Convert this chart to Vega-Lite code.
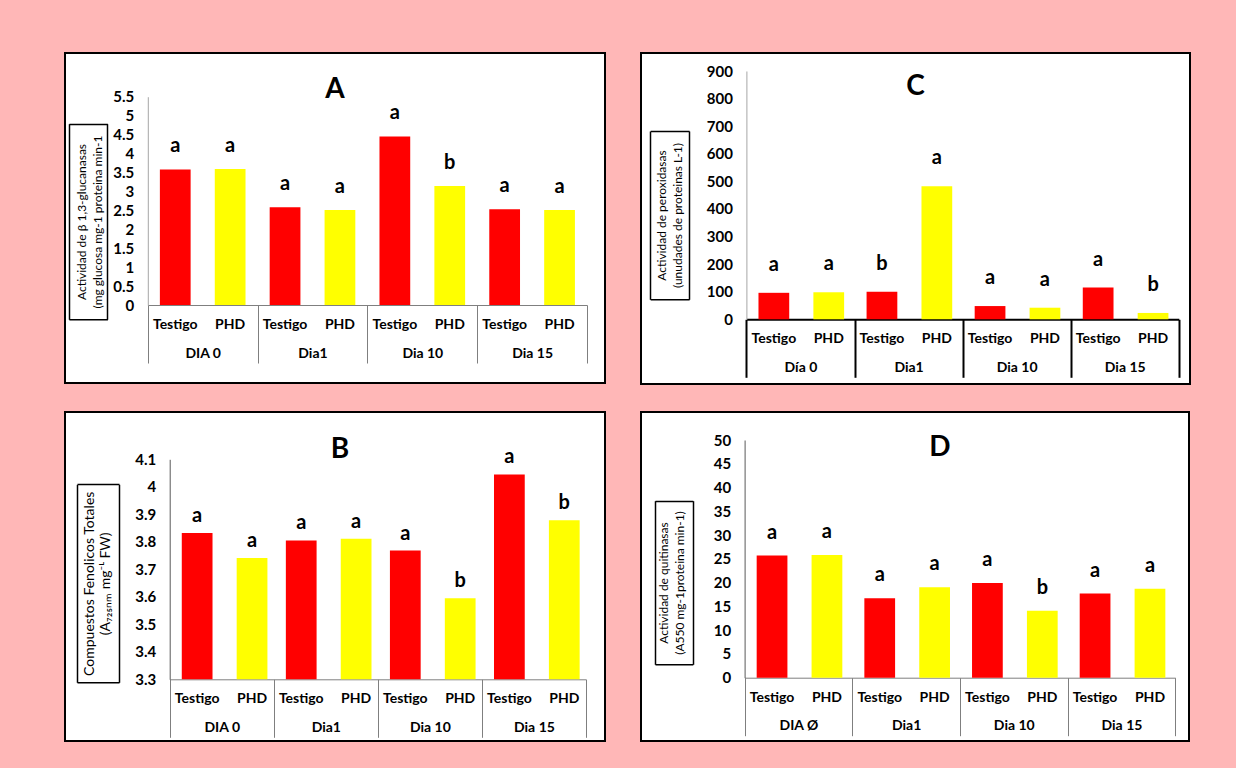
{
  "$schema": "https://vega.github.io/schema/vega-lite/v6.json",
  "background": "#ffb7b7",
  "padding": {"left": 64, "top": 52, "right": 46, "bottom": 27},
  "datasets": {
    "A": [
      {"Dia": "DIA 0", "Trat": "Testigo", "value": 3.58, "letra": "a"},
      {"Dia": "DIA 0", "Trat": "PHD", "value": 3.59, "letra": "a"},
      {"Dia": "Dia1", "Trat": "Testigo", "value": 2.58, "letra": "a"},
      {"Dia": "Dia1", "Trat": "PHD", "value": 2.51, "letra": "a"},
      {"Dia": "Dia 10", "Trat": "Testigo", "value": 4.45, "letra": "a"},
      {"Dia": "Dia 10", "Trat": "PHD", "value": 3.14, "letra": "b"},
      {"Dia": "Dia 15", "Trat": "Testigo", "value": 2.53, "letra": "a"},
      {"Dia": "Dia 15", "Trat": "PHD", "value": 2.51, "letra": "a"}
    ],
    "C": [
      {"Dia": "Día 0", "Trat": "Testigo", "value": 96, "letra": "a"},
      {"Dia": "Día 0", "Trat": "PHD", "value": 98, "letra": "a"},
      {"Dia": "Dia1", "Trat": "Testigo", "value": 100, "letra": "b"},
      {"Dia": "Dia1", "Trat": "PHD", "value": 482, "letra": "a"},
      {"Dia": "Dia 10", "Trat": "Testigo", "value": 48, "letra": "a"},
      {"Dia": "Dia 10", "Trat": "PHD", "value": 42, "letra": "a"},
      {"Dia": "Dia 15", "Trat": "Testigo", "value": 115, "letra": "a"},
      {"Dia": "Dia 15", "Trat": "PHD", "value": 23, "letra": "b"}
    ],
    "B": [
      {"Dia": "DIA 0", "Trat": "Testigo", "value": 3.832, "letra": "a"},
      {"Dia": "DIA 0", "Trat": "PHD", "value": 3.741, "letra": "a"},
      {"Dia": "Dia1", "Trat": "Testigo", "value": 3.805, "letra": "a"},
      {"Dia": "Dia1", "Trat": "PHD", "value": 3.811, "letra": "a"},
      {"Dia": "Dia 10", "Trat": "Testigo", "value": 3.768, "letra": "a"},
      {"Dia": "Dia 10", "Trat": "PHD", "value": 3.595, "letra": "b"},
      {"Dia": "Dia 15", "Trat": "Testigo", "value": 4.045, "letra": "a"},
      {"Dia": "Dia 15", "Trat": "PHD", "value": 3.878, "letra": "b"}
    ],
    "D": [
      {"Dia": "DIA Ø", "Trat": "Testigo", "value": 25.7, "letra": "a"},
      {"Dia": "DIA Ø", "Trat": "PHD", "value": 25.8, "letra": "a"},
      {"Dia": "Dia1", "Trat": "Testigo", "value": 16.7, "letra": "a"},
      {"Dia": "Dia1", "Trat": "PHD", "value": 19.0, "letra": "a"},
      {"Dia": "Dia 10", "Trat": "Testigo", "value": 19.9, "letra": "a"},
      {"Dia": "Dia 10", "Trat": "PHD", "value": 14.1, "letra": "b"},
      {"Dia": "Dia 15", "Trat": "Testigo", "value": 17.7, "letra": "a"},
      {"Dia": "Dia 15", "Trat": "PHD", "value": 18.7, "letra": "a"}
    ]
  },
  "spacing": 26,
  "vconcat": [
    {
      "hconcat": [
        {
          "width": 540, "height": 330,
          "title": {"text": "A", "fontSize": 28, "fontWeight": "bold", "anchor": "middle", "offset": -73, "baseline": "alphabetic", "color": "black"},
          "data": {"name": "A"},
          "layer": [
            {
              "layer": [
                {
                  "mark": {"type": "bar"},
                  "encoding": {
                    "x": {"field": "Dia", "type": "nominal", "sort": null,
                      "scale": {"range": [82.8, 522], "paddingInner": 0, "paddingOuter": 0},
                      "axis": {"orient": "bottom", "offset": -78, "title": null, "labelAngle": 0, "tickBand": "extent", "tickSize": 58, "tickColor": "#7f7f7f", "domainColor": "#7f7f7f", "labelPadding": -10, "labelBaseline": "middle", "labelFontSize": 14, "labelOverlap": false}},
                    "xOffset": {"field": "Trat", "type": "nominal", "sort": ["Testigo", "PHD"], "scale": {"paddingInner": 0.44, "paddingOuter": 0.22}},
                    "y": {"field": "value", "type": "quantitative",
                      "scale": {"domain": [0, 5.5], "range": [252, 43.7], "nice": false, "zero": false},
                      "axis": {"orient": "left", "offset": -82.8, "values": [0, 0.5, 1, 1.5, 2, 2.5, 3, 3.5, 4, 4.5, 5, 5.5], "labelExpr": "'' + datum.value", "labelOverlap": false, "labelSeparation": 0, "ticks": false, "domainColor": "#a6a6a6", "labelPadding": 14, "labelFontSize": 15,
                        "title": ["Actividad de β 1,3-glucanasas", "(mg glucosa  mg-1 proteina min-1"], "titleX": -66.3, "titleY": 168.5, "titleAlign": "center", "titleBaseline": "middle", "titleFontSize": 12, "titleLineHeight": 16}},
                    "y2": {"datum": 0},
                    "color": {"field": "Trat", "type": "nominal", "scale": {"domain": ["Testigo", "PHD"], "range": ["#ff0000", "#ffff00"]}, "legend": null}
                  }
                },
                {
                  "mark": {"type": "text", "dy": -17, "fontSize": 20, "fontWeight": "bold", "baseline": "alphabetic", "color": "black"},
                  "encoding": {
                    "x": {"field": "Dia", "type": "nominal", "sort": null},
                    "xOffset": {"field": "Trat", "type": "nominal", "sort": ["Testigo", "PHD"]},
                    "y": {"field": "value", "type": "quantitative",
                      "axis": {"orient": "left", "offset": -82.8, "values": [0, 0.5, 1, 1.5, 2, 2.5, 3, 3.5, 4, 4.5, 5, 5.5], "labelExpr": "'' + datum.value", "labelOverlap": false, "labelSeparation": 0, "ticks": false, "domainColor": "#a6a6a6", "labelPadding": 14, "labelFontSize": 15,
                        "title": ["Actividad de β 1,3-glucanasas", "(mg glucosa  mg-1 proteina min-1"], "titleX": -66.3, "titleY": 168.5, "titleAlign": "center", "titleBaseline": "middle", "titleFontSize": 12, "titleLineHeight": 16}},
                    "text": {"field": "letra"}
                  }
                },
                {
                  "mark": {"type": "text", "dy": 20, "fontSize": 14, "fontWeight": "bold", "baseline": "middle", "color": "black"},
                  "encoding": {
                    "x": {"field": "Dia", "type": "nominal", "sort": null},
                    "xOffset": {"field": "Trat", "type": "nominal", "sort": ["Testigo", "PHD"]},
                    "y": {"datum": 0, "type": "quantitative",
                      "axis": {"orient": "left", "offset": -82.8, "values": [0, 0.5, 1, 1.5, 2, 2.5, 3, 3.5, 4, 4.5, 5, 5.5], "labelExpr": "'' + datum.value", "labelOverlap": false, "labelSeparation": 0, "ticks": false, "domainColor": "#a6a6a6", "labelPadding": 14, "labelFontSize": 15,
                        "title": ["Actividad de β 1,3-glucanasas", "(mg glucosa  mg-1 proteina min-1"], "titleX": -66.3, "titleY": 168.5, "titleAlign": "center", "titleBaseline": "middle", "titleFontSize": 12, "titleLineHeight": 16}},
                    "text": {"field": "Trat"}
                  }
                }
              ]
            },
            {
              "mark": {"type": "point", "opacity": 0},
              "encoding": {
                "x": {"datum": 0, "type": "quantitative", "scale": {"domain": [0, 1], "range": [3.9, 42.4], "nice": false},
                  "axis": {"orient": "bottom", "offset": -63.7, "values": [0, 1], "labels": false, "title": null, "tickSize": -195.6, "tickColor": "black", "domainColor": "black", "tickWidth": 1.5, "domainWidth": 1.5}},
                "y": {"datum": 0, "type": "quantitative", "scale": {"domain": [0, 1], "range": [266.3, 70.7], "nice": false},
                  "axis": {"orient": "left", "offset": -3.9, "values": [1], "labels": false, "title": null, "domain": false, "tickSize": -38.5, "tickColor": "black", "tickWidth": 1.5}}
              }
            }
          ],
          "resolve": {"scale": {"x": "independent", "y": "independent"}}
        },
        {
          "width": 549, "height": 331,
          "title": {"text": "C", "fontSize": 28, "fontWeight": "bold", "anchor": "middle", "offset": -70, "baseline": "alphabetic", "color": "black"},
          "data": {"name": "C"},
          "layer": [
            {
              "layer": [
                {
                  "mark": {"type": "bar"},
                  "encoding": {
                    "x": {"field": "Dia", "type": "nominal", "sort": null,
                      "scale": {"range": [105.4, 537.8], "paddingInner": 0, "paddingOuter": 0},
                      "axis": {"orient": "bottom", "offset": -64.7, "title": null, "labelAngle": 0, "tickBand": "extent", "tickSize": 58, "tickColor": "black", "domainColor": "black", "tickWidth": 2, "domainWidth": 2, "labelPadding": -10, "labelBaseline": "middle", "labelFontSize": 14, "labelOverlap": false}},
                    "xOffset": {"field": "Trat", "type": "nominal", "sort": ["Testigo", "PHD"], "scale": {"paddingInner": 0.44, "paddingOuter": 0.22}},
                    "y": {"field": "value", "type": "quantitative",
                      "scale": {"domain": [0, 900], "range": [266.3, 18], "nice": false, "zero": false},
                      "axis": {"orient": "left", "offset": -105.4, "values": [0, 100, 200, 300, 400, 500, 600, 700, 800, 900], "labelExpr": "'' + datum.value", "labelOverlap": false, "labelSeparation": 0, "ticks": false, "domainColor": "#a6a6a6", "labelPadding": 14, "labelFontSize": 15,
                        "title": ["Actividad   de peroxidasas", "(unudades de proteinas  L-1)"], "titleX": -84.8, "titleY": 162, "titleAlign": "center", "titleBaseline": "middle", "titleFontSize": 12, "titleLineHeight": 15.5}},
                    "y2": {"datum": 0},
                    "color": {"field": "Trat", "type": "nominal", "scale": {"domain": ["Testigo", "PHD"], "range": ["#ff0000", "#ffff00"]}, "legend": null}
                  }
                },
                {
                  "mark": {"type": "text", "dy": -22, "fontSize": 20, "fontWeight": "bold", "baseline": "alphabetic", "color": "black"},
                  "encoding": {
                    "x": {"field": "Dia", "type": "nominal", "sort": null},
                    "xOffset": {"field": "Trat", "type": "nominal", "sort": ["Testigo", "PHD"]},
                    "y": {"field": "value", "type": "quantitative",
                      "axis": {"orient": "left", "offset": -105.4, "values": [0, 100, 200, 300, 400, 500, 600, 700, 800, 900], "labelExpr": "'' + datum.value", "labelOverlap": false, "labelSeparation": 0, "ticks": false, "domainColor": "#a6a6a6", "labelPadding": 14, "labelFontSize": 15,
                        "title": ["Actividad   de peroxidasas", "(unudades de proteinas  L-1)"], "titleX": -84.8, "titleY": 162, "titleAlign": "center", "titleBaseline": "middle", "titleFontSize": 12, "titleLineHeight": 15.5}},
                    "text": {"field": "letra"}
                  }
                },
                {
                  "mark": {"type": "text", "dy": 20, "fontSize": 14, "fontWeight": "bold", "baseline": "middle", "color": "black"},
                  "encoding": {
                    "x": {"field": "Dia", "type": "nominal", "sort": null},
                    "xOffset": {"field": "Trat", "type": "nominal", "sort": ["Testigo", "PHD"]},
                    "y": {"datum": 0, "type": "quantitative",
                      "axis": {"orient": "left", "offset": -105.4, "values": [0, 100, 200, 300, 400, 500, 600, 700, 800, 900], "labelExpr": "'' + datum.value", "labelOverlap": false, "labelSeparation": 0, "ticks": false, "domainColor": "#a6a6a6", "labelPadding": 14, "labelFontSize": 15,
                        "title": ["Actividad   de peroxidasas", "(unudades de proteinas  L-1)"], "titleX": -84.8, "titleY": 162, "titleAlign": "center", "titleBaseline": "middle", "titleFontSize": 12, "titleLineHeight": 15.5}},
                    "text": {"field": "Trat"}
                  }
                }
              ]
            },
            {
              "mark": {"type": "point", "opacity": 0},
              "encoding": {
                "x": {"datum": 0, "type": "quantitative", "scale": {"domain": [0, 1], "range": [9.2, 48.1], "nice": false},
                  "axis": {"orient": "bottom", "offset": -84.7, "values": [0, 1], "labels": false, "title": null, "tickSize": -168.3, "tickColor": "black", "domainColor": "black", "tickWidth": 1.5, "domainWidth": 1.5}},
                "y": {"datum": 0, "type": "quantitative", "scale": {"domain": [0, 1], "range": [246.3, 78], "nice": false},
                  "axis": {"orient": "left", "offset": -9.2, "values": [1], "labels": false, "title": null, "domain": false, "tickSize": -38.9, "tickColor": "black", "tickWidth": 1.5}}
              }
            }
          ],
          "resolve": {"scale": {"x": "independent", "y": "independent"}}
        }
      ],
      "spacing": 36,
      "bounds": "flush"
    },
    {
      "hconcat": [
        {
          "width": 540, "height": 329,
          "title": {"text": "B", "fontSize": 28, "fontWeight": "bold", "anchor": "middle", "offset": -74, "dx": 5, "baseline": "alphabetic", "color": "black"},
          "data": {"name": "B"},
          "layer": [
            {
              "layer": [
                {
                  "mark": {"type": "bar"},
                  "encoding": {
                    "x": {"field": "Dia", "type": "nominal", "sort": null,
                      "scale": {"range": [104.7, 521], "paddingInner": 0, "paddingOuter": 0},
                      "axis": {"orient": "bottom", "offset": -61.7, "title": null, "labelAngle": 0, "tickBand": "extent", "tickSize": 58, "tickColor": "#7f7f7f", "domainColor": "#7f7f7f", "labelPadding": -10, "labelBaseline": "middle", "labelFontSize": 14, "labelOverlap": false}},
                    "xOffset": {"field": "Trat", "type": "nominal", "sort": ["Testigo", "PHD"], "scale": {"paddingInner": 0.44, "paddingOuter": 0.22}},
                    "y": {"field": "value", "type": "quantitative",
                      "scale": {"domain": [3.3, 4.1], "range": [267.3, 47.3], "nice": false, "zero": false},
                      "axis": {"orient": "left", "offset": -104.7, "values": [3.3, 3.4, 3.5, 3.6, 3.7, 3.8, 3.9, 4, 4.1], "labelExpr": "'' + datum.value", "labelOverlap": false, "labelSeparation": 0, "ticks": false, "domainColor": "#595959", "labelPadding": 14, "labelFontSize": 15,
                        "title": ["Compuestos Fenolicos Totales", "(A₇₂₅ₙₘ mg⁻ᴸ FW)"], "titleX": -79.8, "titleY": 171.3, "titleAlign": "center", "titleBaseline": "middle", "titleFontSize": 14, "titleLineHeight": 16}},
                    "y2": {"datum": 3.3},
                    "color": {"field": "Trat", "type": "nominal", "scale": {"domain": ["Testigo", "PHD"], "range": ["#ff0000", "#ffff00"]}, "legend": null}
                  }
                },
                {
                  "mark": {"type": "text", "dy": -11, "fontSize": 20, "fontWeight": "bold", "baseline": "alphabetic", "color": "black"},
                  "encoding": {
                    "x": {"field": "Dia", "type": "nominal", "sort": null},
                    "xOffset": {"field": "Trat", "type": "nominal", "sort": ["Testigo", "PHD"]},
                    "y": {"field": "value", "type": "quantitative",
                      "axis": {"orient": "left", "offset": -104.7, "values": [3.3, 3.4, 3.5, 3.6, 3.7, 3.8, 3.9, 4, 4.1], "labelExpr": "'' + datum.value", "labelOverlap": false, "labelSeparation": 0, "ticks": false, "domainColor": "#595959", "labelPadding": 14, "labelFontSize": 15,
                        "title": ["Compuestos Fenolicos Totales", "(A₇₂₅ₙₘ mg⁻ᴸ FW)"], "titleX": -79.8, "titleY": 171.3, "titleAlign": "center", "titleBaseline": "middle", "titleFontSize": 14, "titleLineHeight": 16}},
                    "text": {"field": "letra"}
                  }
                },
                {
                  "mark": {"type": "text", "dy": 20, "fontSize": 14, "fontWeight": "bold", "baseline": "middle", "color": "black"},
                  "encoding": {
                    "x": {"field": "Dia", "type": "nominal", "sort": null},
                    "xOffset": {"field": "Trat", "type": "nominal", "sort": ["Testigo", "PHD"]},
                    "y": {"datum": 3.3, "type": "quantitative",
                      "axis": {"orient": "left", "offset": -104.7, "values": [3.3, 3.4, 3.5, 3.6, 3.7, 3.8, 3.9, 4, 4.1], "labelExpr": "'' + datum.value", "labelOverlap": false, "labelSeparation": 0, "ticks": false, "domainColor": "#595959", "labelPadding": 14, "labelFontSize": 15,
                        "title": ["Compuestos Fenolicos Totales", "(A₇₂₅ₙₘ mg⁻ᴸ FW)"], "titleX": -79.8, "titleY": 171.3, "titleAlign": "center", "titleBaseline": "middle", "titleFontSize": 14, "titleLineHeight": 16}},
                    "text": {"field": "Trat"}
                  }
                }
              ]
            },
            {
              "mark": {"type": "point", "opacity": 0},
              "encoding": {
                "x": {"datum": 0, "type": "quantitative", "scale": {"domain": [0, 1], "range": [12, 54], "nice": false},
                  "axis": {"orient": "bottom", "offset": -58.7, "values": [0, 1], "labels": false, "title": null, "tickSize": -198, "tickColor": "black", "domainColor": "black", "tickWidth": 1.5, "domainWidth": 1.5}},
                "y": {"datum": 0, "type": "quantitative", "scale": {"domain": [0, 1], "range": [270.3, 72.3], "nice": false},
                  "axis": {"orient": "left", "offset": -12, "values": [1], "labels": false, "title": null, "domain": false, "tickSize": -42, "tickColor": "black", "tickWidth": 1.5}}
              }
            }
          ],
          "resolve": {"scale": {"x": "independent", "y": "independent"}}
        },
        {
          "width": 548, "height": 329,
          "title": {"text": "D", "fontSize": 28, "fontWeight": "bold", "anchor": "middle", "offset": -72, "dx": 25, "baseline": "alphabetic", "color": "black"},
          "data": {"name": "D"},
          "layer": [
            {
              "layer": [
                {
                  "mark": {"type": "bar"},
                  "encoding": {
                    "x": {"field": "Dia", "type": "nominal", "sort": null,
                      "scale": {"range": [103.6, 534.3], "paddingInner": 0, "paddingOuter": 0},
                      "axis": {"orient": "bottom", "offset": -63.3, "title": null, "labelAngle": 0, "tickBand": "extent", "tickSize": 58, "tickColor": "#7f7f7f", "domainColor": "#7f7f7f", "labelPadding": -10, "labelBaseline": "middle", "labelFontSize": 14, "labelOverlap": false}},
                    "xOffset": {"field": "Trat", "type": "nominal", "sort": ["Testigo", "PHD"], "scale": {"paddingInner": 0.44, "paddingOuter": 0.22}},
                    "y": {"field": "value", "type": "quantitative",
                      "scale": {"domain": [0, 50], "range": [265.7, 28], "nice": false, "zero": false},
                      "axis": {"orient": "left", "offset": -103.6, "values": [0, 5, 10, 15, 20, 25, 30, 35, 40, 45, 50], "labelExpr": "'' + datum.value", "labelOverlap": false, "labelSeparation": 0, "ticks": false, "domainColor": "#595959", "labelPadding": 14, "labelFontSize": 15,
                        "title": ["Actividad de quitinasas", "(A550 mg-1proteina min-1)"], "titleX": -81.4, "titleY": 170.5, "titleAlign": "center", "titleBaseline": "middle", "titleFontSize": 12, "titleLineHeight": 16.4}},
                    "y2": {"datum": 0},
                    "color": {"field": "Trat", "type": "nominal", "scale": {"domain": ["Testigo", "PHD"], "range": ["#ff0000", "#ffff00"]}, "legend": null}
                  }
                },
                {
                  "mark": {"type": "text", "dy": -17, "fontSize": 20, "fontWeight": "bold", "baseline": "alphabetic", "color": "black"},
                  "encoding": {
                    "x": {"field": "Dia", "type": "nominal", "sort": null},
                    "xOffset": {"field": "Trat", "type": "nominal", "sort": ["Testigo", "PHD"]},
                    "y": {"field": "value", "type": "quantitative",
                      "axis": {"orient": "left", "offset": -103.6, "values": [0, 5, 10, 15, 20, 25, 30, 35, 40, 45, 50], "labelExpr": "'' + datum.value", "labelOverlap": false, "labelSeparation": 0, "ticks": false, "domainColor": "#595959", "labelPadding": 14, "labelFontSize": 15,
                        "title": ["Actividad de quitinasas", "(A550 mg-1proteina min-1)"], "titleX": -81.4, "titleY": 170.5, "titleAlign": "center", "titleBaseline": "middle", "titleFontSize": 12, "titleLineHeight": 16.4}},
                    "text": {"field": "letra"}
                  }
                },
                {
                  "mark": {"type": "text", "dy": 20, "fontSize": 14, "fontWeight": "bold", "baseline": "middle", "color": "black"},
                  "encoding": {
                    "x": {"field": "Dia", "type": "nominal", "sort": null},
                    "xOffset": {"field": "Trat", "type": "nominal", "sort": ["Testigo", "PHD"]},
                    "y": {"datum": 0, "type": "quantitative",
                      "axis": {"orient": "left", "offset": -103.6, "values": [0, 5, 10, 15, 20, 25, 30, 35, 40, 45, 50], "labelExpr": "'' + datum.value", "labelOverlap": false, "labelSeparation": 0, "ticks": false, "domainColor": "#595959", "labelPadding": 14, "labelFontSize": 15,
                        "title": ["Actividad de quitinasas", "(A550 mg-1proteina min-1)"], "titleX": -81.4, "titleY": 170.5, "titleAlign": "center", "titleBaseline": "middle", "titleFontSize": 12, "titleLineHeight": 16.4}},
                    "text": {"field": "Trat"}
                  }
                }
              ]
            },
            {
              "mark": {"type": "point", "opacity": 0},
              "encoding": {
                "x": {"datum": 0, "type": "quantitative", "scale": {"domain": [0, 1], "range": [14, 51.8], "nice": false},
                  "axis": {"orient": "bottom", "offset": -76.7, "values": [0, 1], "labels": false, "title": null, "tickSize": -163.6, "tickColor": "black", "domainColor": "black", "tickWidth": 1.5, "domainWidth": 1.5}},
                "y": {"datum": 0, "type": "quantitative", "scale": {"domain": [0, 1], "range": [252.3, 88.7], "nice": false},
                  "axis": {"orient": "left", "offset": -14, "values": [1], "labels": false, "title": null, "domain": false, "tickSize": -37.8, "tickColor": "black", "tickWidth": 1.5}}
              }
            }
          ],
          "resolve": {"scale": {"x": "independent", "y": "independent"}}
        }
      ],
      "spacing": 36,
      "bounds": "flush"
    }
  ],
  "config": {
    "font": "Lato",
    "view": {"fill": "white", "stroke": "black", "strokeWidth": 2},
    "axis": {"grid": false, "labelFont": "Lato", "labelFontWeight": "bold", "labelColor": "black", "titleFont": "Lato", "titleFontWeight": "normal", "titleColor": "black"},
    "title": {"font": "Lato"},
    "text": {"font": "Lato"}
  }
}
